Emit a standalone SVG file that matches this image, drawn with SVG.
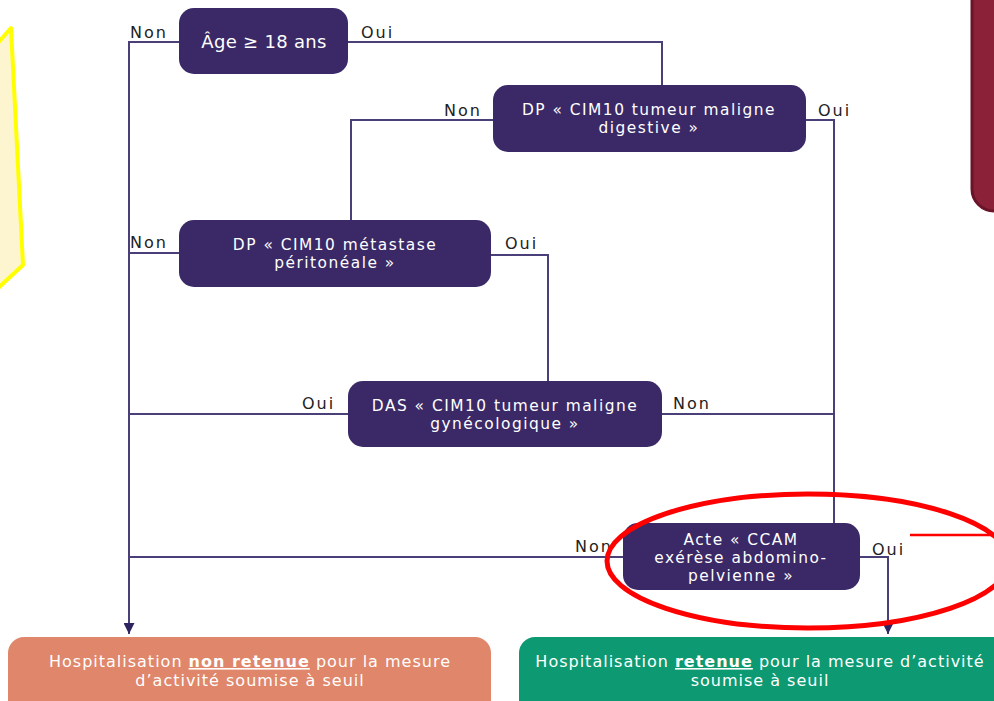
<svg xmlns="http://www.w3.org/2000/svg" width="994" height="701" viewBox="0 0 994 701">
<defs>
<style>
.node{fill:#3a2966;}
.nt{fill:#ffffff;font-family:"DejaVu Sans",sans-serif;font-size:15.4px;letter-spacing:1.5px;text-anchor:middle;}
.lbl{fill:#222222;font-family:"DejaVu Sans",sans-serif;font-size:16px;letter-spacing:2px;}
.con{fill:none;stroke:#4b3f7a;stroke-width:2;}
.res{fill:#ffffff;font-family:"DejaVu Sans",sans-serif;font-size:16px;letter-spacing:1px;text-anchor:middle;}
</style>
<marker id="arr" viewBox="0 0 10 10" refX="10" refY="5" markerWidth="14" markerHeight="11" orient="auto" markerUnits="userSpaceOnUse">
<path d="M0,0 L10,5 L0,10 z" fill="#2e2560"/>
</marker>
</defs>
<rect width="994" height="701" fill="#ffffff"/>

<g id="yellow-note">
<polygon points="-4,45 11,28 23,265 -4,290" fill="#fdf5d0" stroke="#ffff00" stroke-width="4" stroke-linejoin="round"/>
</g>
<g id="red-note">
<rect x="972" y="-25" width="60" height="236" rx="22" fill="#8a2139" stroke="#6a1428" stroke-width="3"/>
</g>

<g id="connectors">
<path class="con" d="M179,42 H129 V634" marker-end="url(#arr)"/>
<path class="con" d="M348,42 H662 V85"/>
<path class="con" d="M493,120 H351 V220"/>
<path class="con" d="M806,120 H834 V523"/>
<path class="con" d="M179,253 H129"/>
<path class="con" d="M491,255 H548 V381"/>
<path class="con" d="M348,414 H129"/>
<path class="con" d="M662,414 H834"/>
<path class="con" d="M623,557 H129"/>
<path class="con" d="M860,557 H888 V634" marker-end="url(#arr)"/>
</g>

<g id="labels">
<text class="lbl" x="130" y="38">Non</text>
<text class="lbl" x="361" y="38">Oui</text>
<text class="lbl" x="444" y="116">Non</text>
<text class="lbl" x="818" y="116">Oui</text>
<text class="lbl" x="130" y="248">Non</text>
<text class="lbl" x="505" y="249">Oui</text>
<text class="lbl" x="302" y="409">Oui</text>
<text class="lbl" x="673" y="409">Non</text>
<text class="lbl" x="575" y="552">Non</text>
<text class="lbl" x="872" y="555">Oui</text>
</g>

<g id="n-age">
<rect class="node" x="179" y="8" width="169" height="66" rx="15"/>
<text class="nt" x="264" y="48" style="font-size:18px;letter-spacing:0.3px">Âge ≥ 18 ans</text>
</g>
<g id="n-dp-digestive">
<rect class="node" x="493" y="85" width="313" height="67" rx="15"/>
<text class="nt" x="649" y="115">DP « CIM10 tumeur maligne<tspan x="649" dy="18">digestive »</tspan></text>
</g>
<g id="n-dp-metastase">
<rect class="node" x="179" y="220" width="312" height="67" rx="15"/>
<text class="nt" x="335" y="250">DP « CIM10 métastase<tspan x="335" dy="18">péritonéale »</tspan></text>
</g>
<g id="n-das">
<rect class="node" x="348" y="381" width="314" height="66" rx="15"/>
<text class="nt" x="505" y="411">DAS « CIM10 tumeur maligne<tspan x="505" dy="18">gynécologique »</tspan></text>
</g>
<g id="n-ccam">
<rect class="node" x="623" y="523" width="237" height="67" rx="15"/>
<text class="nt" x="741" y="545">Acte « CCAM<tspan x="741" dy="18">exérèse abdomino-</tspan><tspan x="741" dy="18">pelvienne »</tspan></text>
</g>

<g id="r-non-retenue">
<rect x="8" y="637" width="483" height="80" rx="16" fill="#e0866a"/>
<text class="res" x="250" y="667">Hospitalisation <tspan font-weight="bold" text-decoration="underline">non retenue</tspan> pour la mesure<tspan x="250" dy="19">d’activité soumise à seuil</tspan></text>
</g>
<g id="r-retenue">
<rect x="519" y="637" width="500" height="80" rx="16" fill="#0d9a72"/>
<text class="res" x="760" y="667">Hospitalisation <tspan font-weight="bold" text-decoration="underline">retenue</tspan> pour la mesure d’activité<tspan x="760" dy="19">soumise à seuil</tspan></text>
</g>

<g id="highlight">
<ellipse cx="808" cy="561" rx="201" ry="67" fill="none" stroke="#ff0000" stroke-width="5"/>
<line x1="910" y1="535" x2="994" y2="535" stroke="#ff0000" stroke-width="2.5"/>
</g>
</svg>
